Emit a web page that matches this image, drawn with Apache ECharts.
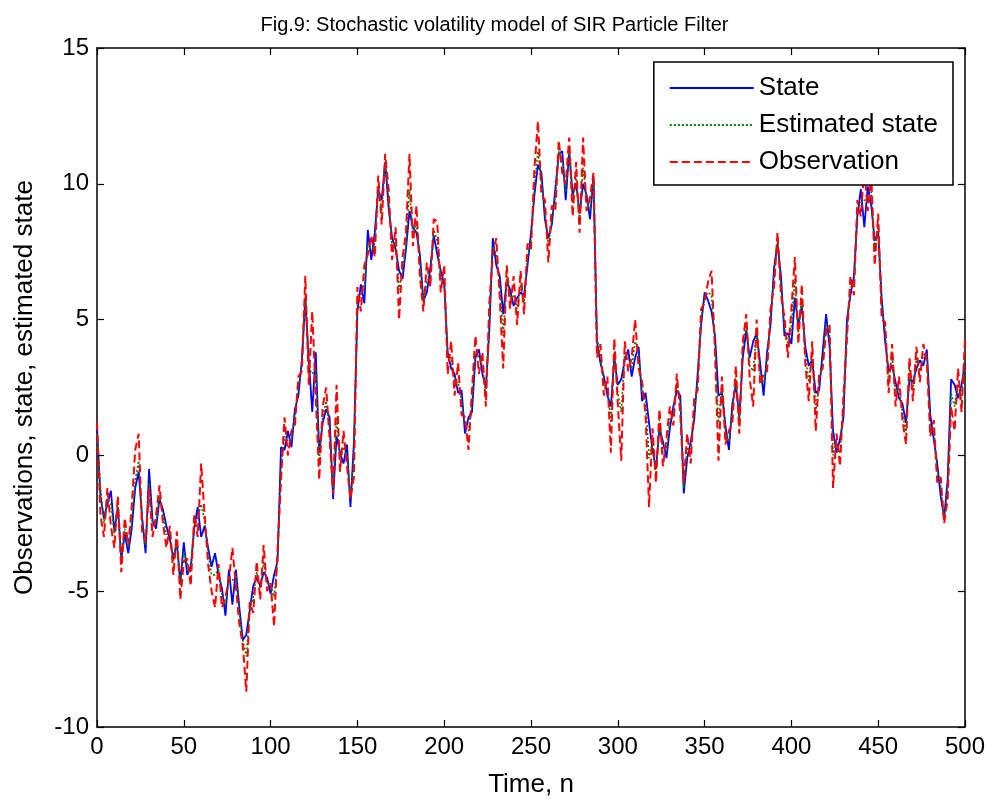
<!DOCTYPE html>
<html><head><meta charset="utf-8">
<script src="https://cdn.jsdelivr.net/npm/echarts@6/dist/echarts.min.js"></script>
<style>html,body{margin:0;padding:0;background:#fff}#c{width:989px;height:803px}</style>
</head><body><div id="c"></div>
<script>
// sample step of the time axis (values every 2 time steps)
var timeStep = 2;
var stateValues = [1.0,-1.5,-2.3,-1.8,-1.3,-2.8,-1.9,-3.8,-2.9,-3.6,-2.7,-1.2,-0.6,-2.3,-3.6,-0.5,-2.4,-2.7,-1.6,-2.0,
-2.6,-3.1,-3.8,-3.2,-4.7,-3.2,-4.4,-4.1,-2.7,-1.9,-3.0,-2.6,-3.4,-4.1,-3.6,-4.4,-4.9,-5.9,-4.2,-5.5,
-4.2,-5.6,-6.8,-6.6,-5.7,-4.8,-4.5,-4.8,-4.3,-4.5,-5.1,-4.4,-3.9,0.3,0.2,0.9,0.3,1.7,2.2,3.5,
5.8,3.5,1.6,3.8,0.1,1.2,1.7,1.4,-1.6,0.7,0.1,-0.3,0.4,-1.9,0.5,5.3,6.3,5.6,8.3,7.2,
8.2,9.8,9.4,10.8,9.1,8.0,7.6,6.8,6.5,7.6,9.0,8.4,8.2,7.4,5.7,6.0,6.9,8.1,7.4,6.8,
6.3,3.8,3.2,3.0,2.3,2.4,0.8,1.4,1.6,3.6,3.9,3.0,2.5,4.6,8.0,7.0,6.6,5.2,6.4,6.1,
5.5,5.8,6.0,5.9,7.0,8.2,9.6,10.7,10.4,8.7,8.0,8.5,9.8,11.1,11.2,9.4,11.2,9.6,10.0,8.9,
10.0,9.6,8.7,10.3,4.2,3.4,2.9,2.2,1.8,3.6,2.6,2.8,3.5,3.9,2.9,3.6,4.0,2.0,2.3,1.2,
0.2,-0.5,1.0,0.5,-0.1,1.0,1.8,2.4,2.2,-1.4,-0.1,0.5,1.3,3.0,4.8,6.0,5.7,5.3,4.4,2.2,
2.3,1.1,0.2,1.9,2.6,1.4,3.6,4.6,3.6,4.2,4.5,3.4,2.2,3.8,4.8,6.9,7.8,6.6,4.4,4.5,
4.1,5.8,4.8,5.5,4.0,3.3,3.5,2.3,2.4,3.8,5.2,4.0,0.9,0.1,0.6,1.4,5.0,5.9,6.6,8.8,
9.8,8.4,9.9,9.2,7.9,8.2,5.8,4.2,3.1,3.3,2.7,2.1,1.9,1.2,2.8,2.7,3.2,3.5,3.3,3.9,
1.5,0.6,-0.3,-1.5,-2.3,-0.9,2.8,2.6,2.1,2.6,3.4];
var estimatedValues = [0.8,-1.2,-2.5,-1.6,-1.8,-2.9,-1.8,-3.7,-2.7,-3.4,-2.4,-0.9,-0.2,-2.4,-3.3,-1.0,-2.6,-2.5,-1.5,-2.2,
-2.9,-2.9,-3.9,-3.1,-4.8,-3.5,-4.0,-4.3,-2.6,-2.3,-1.8,-2.4,-3.6,-4.4,-4.4,-4.2,-5.1,-5.5,-4.5,-4.6,
-4.4,-5.8,-6.8,-7.4,-5.7,-5.2,-4.3,-4.9,-3.9,-4.7,-4.8,-5.2,-3.8,-0.5,0.7,0.5,0.6,1.4,2.5,3.3,
5.9,3.2,3.0,3.2,-0.2,1.4,2.0,1.0,-1.3,1.4,-0.1,0.3,0.0,-1.6,0.0,5.6,5.9,6.2,7.8,7.5,
7.8,9.9,9.0,10.8,9.4,7.7,7.9,6.1,6.8,7.8,9.8,8.1,8.6,7.1,5.6,6.4,6.6,8.3,7.9,6.5,
6.5,3.6,3.6,2.7,2.7,2.0,1.1,0.9,1.9,3.8,3.6,3.3,2.2,5.0,7.7,7.4,6.3,4.4,6.6,5.8,
5.9,5.4,6.3,5.6,7.3,7.9,9.9,11.2,10.1,9.0,7.7,8.7,9.5,11.2,10.9,9.7,11.3,9.3,10.3,8.6,
10.6,9.4,9.0,10.3,4.3,3.7,2.6,2.5,1.2,3.8,2.3,1.6,3.8,3.6,3.2,4.2,3.7,2.3,2.0,-0.1,
0.5,-0.7,1.3,0.1,0.2,1.3,1.5,2.7,1.9,-1.2,0.3,0.1,1.6,2.7,5.0,5.8,6.0,5.9,4.1,1.2,
2.6,0.8,0.5,1.6,2.9,1.1,3.9,4.9,3.3,3.1,4.7,3.0,2.6,3.5,5.1,6.6,8.0,6.2,4.7,4.1,
4.7,6.5,4.5,5.8,3.7,2.7,3.8,1.6,2.7,3.5,4.9,4.4,0.0,0.5,0.1,1.8,4.6,6.2,6.2,9.0,
9.3,9.4,9.4,9.7,7.5,8.5,5.4,4.6,2.7,3.7,2.3,2.5,1.6,0.8,3.2,2.4,3.6,3.1,3.7,3.7,
1.1,1.0,-0.6,-1.1,-2.4,-1.2,2.3,1.8,2.6,2.1,3.8];
var observationValues = [1.2,-2.2,-3.0,-1.2,-2.6,-3.4,-1.5,-4.3,-2.3,-3.3,-1.9,0.2,0.8,-2.8,-3.2,-1.2,-3.0,-2.2,-1.1,-2.5,
-3.4,-2.6,-4.4,-2.8,-5.3,-3.9,-3.8,-4.8,-2.2,-3.0,-0.3,-2.2,-4.0,-5.0,-5.6,-4.0,-5.6,-5.2,-4.6,-3.4,
-4.8,-6.2,-7.0,-8.7,-5.4,-5.8,-3.9,-5.3,-3.3,-5.0,-4.7,-6.3,-3.5,-0.9,1.4,0.0,0.9,1.1,2.9,3.1,
6.6,2.6,5.3,2.2,-0.9,1.8,2.5,0.6,-1.4,2.6,-0.6,0.9,-0.4,-1.6,-0.8,6.2,5.3,7.0,7.4,8.1,
7.3,10.3,8.5,11.1,9.8,7.2,8.4,5.0,7.3,8.2,11.1,7.7,9.2,6.6,5.3,7.1,6.2,8.7,8.6,6.0,
7.0,3.0,4.2,2.2,3.4,1.5,1.4,0.2,2.4,4.4,3.0,3.8,1.8,5.6,7.4,8.0,5.8,3.2,7.0,5.4,
6.6,4.8,6.8,5.2,7.8,7.6,10.6,12.3,9.6,9.4,7.1,9.2,9.0,11.6,10.4,10.0,11.7,8.8,10.8,8.2,
11.7,9.0,9.5,10.4,3.6,4.1,2.2,2.9,0.1,4.3,1.9,-0.2,4.2,3.1,3.6,5.0,3.2,2.7,1.5,-1.9,
1.0,-1.0,1.7,-0.4,0.6,1.8,1.1,3.0,1.5,-1.0,0.8,-0.3,2.1,2.4,5.4,5.6,6.4,6.8,3.8,-0.2,
2.9,0.4,0.9,1.2,3.3,0.8,4.2,5.2,2.8,1.8,5.0,2.6,3.0,3.1,5.4,6.2,8.2,5.9,5.1,3.6,
5.4,7.3,4.1,6.3,3.4,2.0,4.2,0.9,3.0,3.2,4.6,4.8,-1.2,0.8,-0.4,2.2,4.3,6.6,5.9,9.4,
8.8,10.6,9.0,10.3,7.0,8.9,5.0,4.9,2.3,4.1,1.8,2.9,1.3,0.4,3.6,2.0,4.0,2.7,4.1,3.5,
0.7,1.3,-1.0,-0.8,-2.5,-1.6,1.8,0.9,3.2,1.6,4.3];
var seriesNames = ['State','Estimated state','Observation'];
var xTickStep = 50;
var yTickStep = 5;

function pairs(vals){ return vals.map(function(v,i){ return [i*timeStep, v]; }); }

var font = 'Liberation Sans, Arial, Helvetica, sans-serif';
var chart = echarts.init(document.getElementById('c'), null, {renderer:'canvas'});
var axisCommon = {
  axisLine:{show:true, onZero:false, lineStyle:{color:'#000', width:1.5}},
  axisTick:{show:true, inside:true, length:7, lineStyle:{color:'#000', width:1.2}},
  splitLine:{show:false}
};
chart.setOption({
  animation:false,
  backgroundColor:'#fff',
  title:{text:'Fig.9: Stochastic volatility model of SIR Particle Filter', left:'center', top:10,
    textStyle:{fontFamily:font, fontSize:20, fontWeight:'normal', color:'#000'}},
  grid:{left:97, right:24, top:48, bottom:74},
  legend:{
    orient:'vertical', right:36, top:62,
    data:seriesNames,
    backgroundColor:'#fff', borderColor:'#000', borderWidth:1.5, borderRadius:0,
    padding:[12,15,9,15], itemGap:9, itemWidth:84, itemHeight:14,
    itemStyle:{opacity:0},
    textStyle:{fontFamily:font, fontSize:26, color:'#000', lineHeight:28},
    z:10
  },
  xAxis:[
    Object.assign({type:'value', position:'bottom', min:0, max:500, interval:xTickStep,
      name:'Time, n', nameLocation:'middle', nameGap:45,
      nameTextStyle:{fontFamily:font, fontSize:26, color:'#000'},
      axisLabel:{fontFamily:font, fontSize:24, color:'#000', margin:8}}, axisCommon),
    Object.assign({type:'value', position:'top', min:0, max:500, interval:xTickStep,
      axisLabel:{show:false}}, axisCommon)
  ],
  yAxis:[
    Object.assign({type:'value', position:'left', min:-10, max:15, interval:yTickStep,
      name:'Observations, state, estimated state', nameLocation:'middle', nameGap:59,
      nameTextStyle:{fontFamily:font, fontSize:26, color:'#000'},
      axisLabel:{fontFamily:font, fontSize:24, color:'#000', margin:8}}, axisCommon),
    Object.assign({type:'value', position:'right', min:-10, max:15, interval:yTickStep,
      axisLabel:{show:false}}, axisCommon)
  ],
  series:[
    {name:seriesNames[0], type:'line', data:pairs(stateValues), symbol:'none', z:2,
      lineStyle:{color:'#0000ff', width:1.8, type:'solid'}, itemStyle:{color:'#0000ff'}},
    {name:seriesNames[1], type:'line', data:pairs(estimatedValues), symbol:'none', z:3,
      lineStyle:{color:'#008000', width:1.6, type:[2,2]}, itemStyle:{color:'#008000'}},
    {name:seriesNames[2], type:'line', data:pairs(observationValues), symbol:'none', z:4,
      lineStyle:{color:'#ff0000', width:2, type:[8,4]}, itemStyle:{color:'#ff0000'}}
  ]
});
</script></body></html>
